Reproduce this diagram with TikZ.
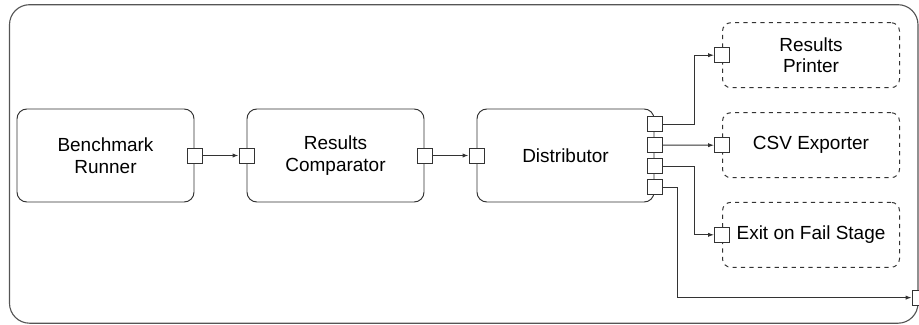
\documentclass[tikz,border=0pt]{standalone}
\usepackage{fontspec}
\setmainfont{Liberation Sans}
\usepackage{tikz}
\usetikzlibrary{arrows.meta, positioning, calc}
\definecolor{pipeline}{RGB}{51,51,51}
\definecolor{framegray}{RGB}{85,85,85}
\tikzset{
  %% ---- boxes ----
  stage/.style    = {rectangle, rounded corners=7pt,
                     draw=pipeline, line width=0.7pt, fill=white,
                     minimum width=4.425cm, minimum height=2.325cm,
                     align=center, inner sep=0pt,
                     font=\fontsize{13.5}{15.6}\selectfont},
  sink/.style     = {rectangle, rounded corners=6pt,
                     draw=pipeline, line width=0.7pt, dashed, fill=white,
                     minimum width=4.425cm, minimum height=1.625cm,
                     align=center, inner sep=0pt,
                     font=\fontsize{13.5}{15.6}\selectfont},
  port/.style     = {rectangle, draw=pipeline, line width=0.7pt, solid,
                     fill=white, minimum size=0.375cm, inner sep=0pt},
  %% ---- arrows ----
  link/.style     = {-{Latex[length=4.2pt, width=3pt]},
                     line width=0.7pt, color=pipeline},
}

\begin{document}
\begin{tikzpicture}

  \useasboundingbox (0,0) rectangle (22.975,-8.1);

  %% Outer frame
  \draw[framegray, line width=0.8pt, rounded corners=0.5cm]
    (0.2375,-0.1175) rectangle (22.95,-8.08);

  %% Stages
  \node[stage] (runner) at (2.6375,-3.8875) {Benchmark\\Runner};
  \node[stage] (comp)   at (8.3875,-3.8875) {Results\\Comparator};
  \node[stage] (dist)   at (14.1375,-3.8875) {Distributor};

  %% Sinks
  \node[sink] (printer) at (20.275,-1.38) {Results\\Printer};
  \node[sink] (csv)     at (20.275,-3.63) {CSV Exporter};
  \node[sink] (exit)    at (20.275,-5.87) {Exit on Fail Stage};

  %% Ports
  \node[port] (runnerout) at (runner.east) {};
  \node[port] (compin)    at (comp.west) {};
  \node[port] (compout)   at (comp.east) {};
  \node[port] (distin)    at (dist.west) {};
  \node[port] (distA) at ($(dist.east)+(0,0.7875)$) {};
  \node[port] (distB) at ($(dist.east)+(0,0.2625)$) {};
  \node[port] (distC) at ($(dist.east)+(0,-0.2625)$) {};
  \node[port] (distD) at ($(dist.east)+(0,-0.7875)$) {};
  \node[port] (printerin) at (printer.west) {};
  \node[port] (csvin)     at (csv.west) {};
  \node[port] (exitin)    at (exit.west) {};
  \node[port] (outerout)  at (22.99,-7.44) {};

  %% Connections
  \draw[link] (runnerout.east) -- (compin.west);
  \draw[link] (compout.east) -- (distin.west);
  \draw[link] (distA.east) -- ++(0.79,0) |- (printerin.west);
  \draw[link] (distB.east) -- (csvin.west);
  \draw[link] (distC.east) -- ++(0.79,0) |- (exitin.west);
  \draw[link] (distD.east) -- ++(0.375,0) |- (outerout.west);

\end{tikzpicture}
\end{document}
